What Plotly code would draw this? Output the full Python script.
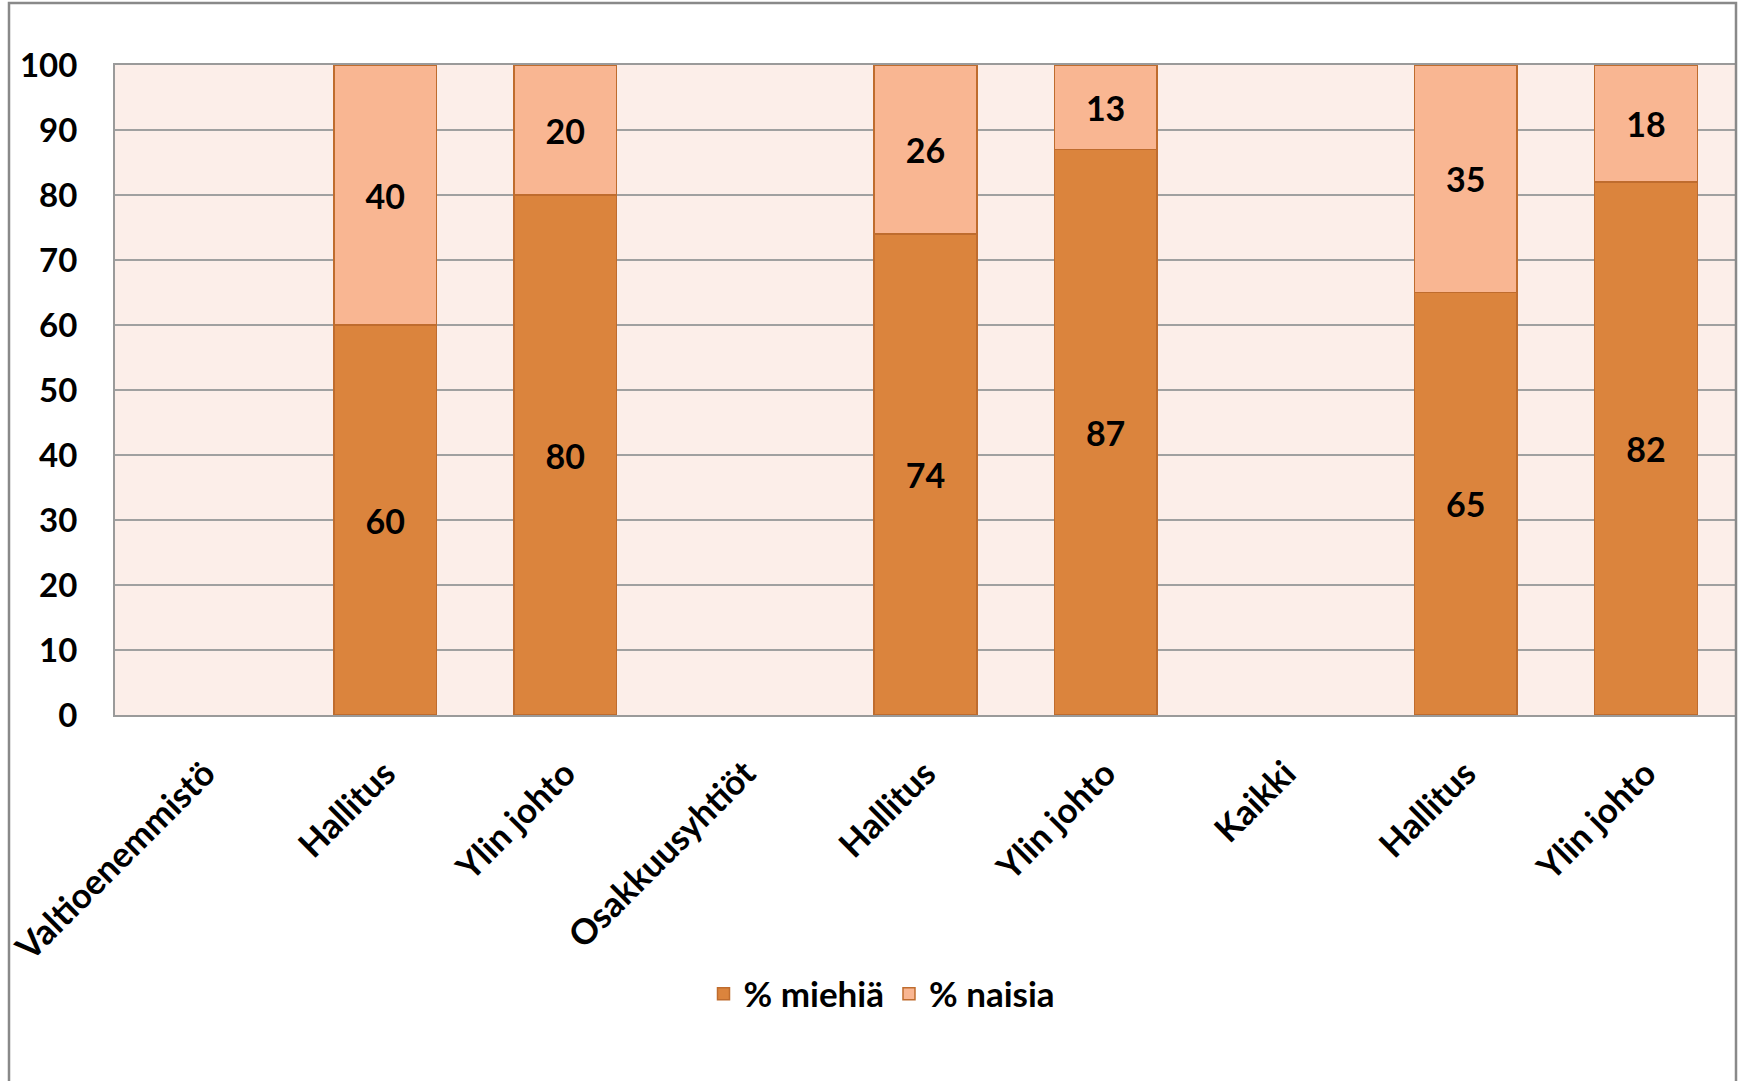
import plotly.graph_objects as go

categories = ["Valtioenemmistö", "Hallitus", "Ylin johto",
              "Osakkuusyhtiöt", "Hallitus", "Ylin johto",
              "Kaikki", "Hallitus", "Ylin johto"]
men = [None, 60, 80, None, 74, 87, None, 65, 82]
women = [None, 40, 20, None, 26, 13, None, 35, 18]
y_ticks = [0, 10, 20, 30, 40, 50, 60, 70, 80, 90, 100]

W, H = 1740, 1081
L, R, T, B = 115, 4, 65, 366
pw = W - L - R
ph = H - T - B

xs = list(range(len(categories)))
line = dict(color="#BF6C2E", width=1.5)
lab_font = dict(family="Lato", size=34, color="black", weight="bold")

fig = go.Figure()
fig.add_trace(go.Bar(
    x=xs, y=men, name="% miehiä",
    marker=dict(color="#DB843D", line=line),
    text=[("" if v is None else str(v)) for v in men],
    textposition="inside", insidetextanchor="middle", textangle=0,
    textfont=lab_font,
))
fig.add_trace(go.Bar(
    x=xs, y=women, name="% naisia",
    marker=dict(color="#F9B692", line=line),
    text=[("" if v is None else str(v)) for v in women],
    textposition="inside", insidetextanchor="middle", textangle=0,
    textfont=lab_font,
))

fig.update_layout(
    width=W, height=H,
    margin=dict(l=L, r=R, t=T, b=B, autoexpand=False),
    barmode="stack", bargap=0.43,
    paper_bgcolor="white", plot_bgcolor="#FCEEE9",
    font=dict(family="Lato", size=33, color="black", weight="bold"),
    showlegend=True,
    legend=dict(orientation="h", x=(882 - L) / pw, xanchor="center",
                y=(715 - 994) / ph, yanchor="middle",
                font=dict(family="Lato", size=35, color="black", weight="bold"),
                itemwidth=30, traceorder="normal", bgcolor="rgba(0,0,0,0)"),
    xaxis=dict(tickmode="array", tickvals=xs, ticktext=categories,
               tickangle=-45, range=[-0.5, len(categories) - 0.5],
               showgrid=False, showline=True, linecolor="#9A9A9A", linewidth=2,
               mirror=True, ticks="", ticklabelstandoff=22,
               tickfont=dict(family="Lato", size=35, color="black", weight="bold")),
    yaxis=dict(range=[0, 100], tickmode="array", tickvals=y_ticks,
               showgrid=True, gridcolor="#A0A0A0", gridwidth=2,
               showline=True, linecolor="#9A9A9A", linewidth=2,
               zeroline=False, ticks="", ticklabelstandoff=29,
               tickfont=dict(family="Lato", size=33, color="black", weight="bold")),
    shapes=[dict(type="rect", xref="paper", yref="paper",
                 x0=(9 - L) / pw, x1=(1736 - L) / pw,
                 y0=(715 - 1090) / ph, y1=(715 - 3) / ph,
                 line=dict(color="#898989", width=2.5), layer="above")],
)

fig.write_html("out.html",
               config={"displayModeBar": False},
               post_script="document.body.style.margin='0';document.body.style.overflow='hidden';")
